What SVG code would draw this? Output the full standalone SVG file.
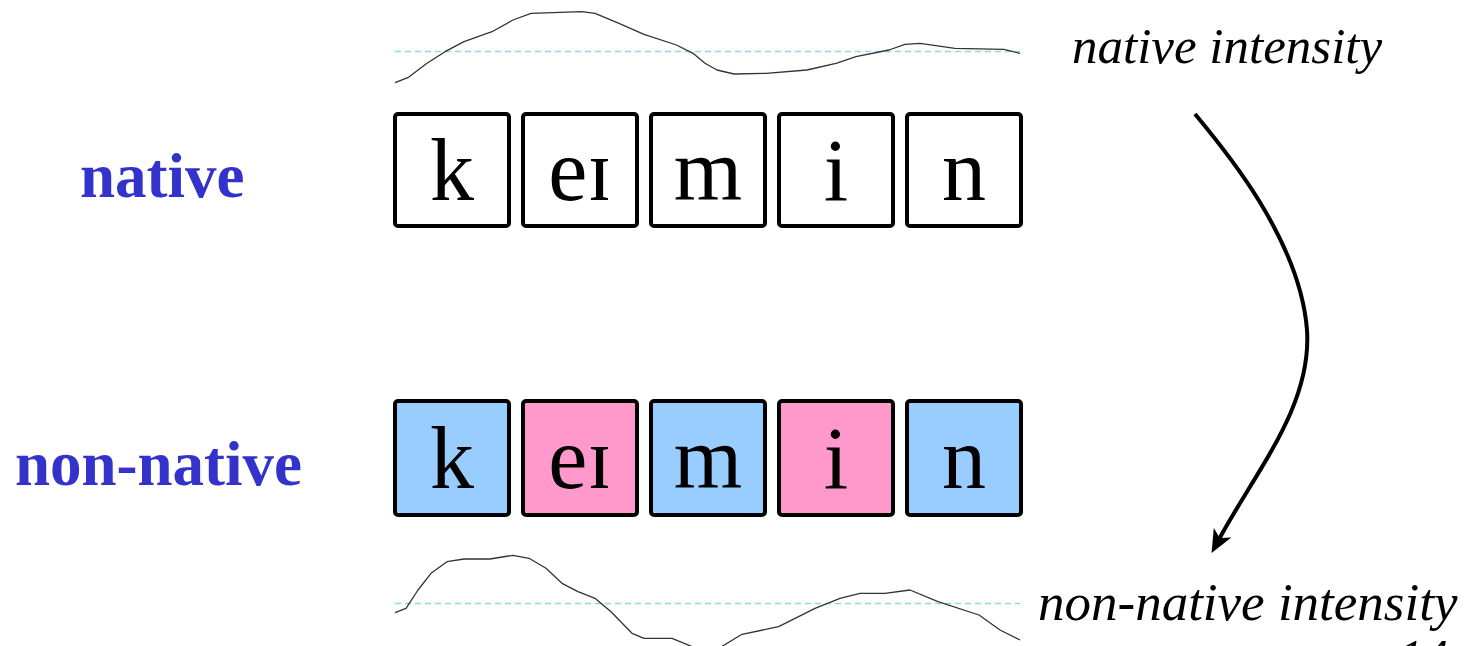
<svg xmlns="http://www.w3.org/2000/svg" width="1480" height="646" viewBox="0 0 1480 646">
<style>
.box{stroke:#000;stroke-width:4;rx:3;}
.w{fill:#fff;}
.b{fill:#99ccff;}
.p{fill:#ff99cc;}
.ph{font-family:"Liberation Serif","DejaVu Serif",serif;font-size:88px;fill:#000;text-anchor:middle;}
.lab{font-family:"Liberation Serif",serif;font-weight:bold;font-size:63px;fill:#3333cc;}
.it{font-family:"Liberation Serif",serif;font-style:italic;fill:#000;}
.dash{stroke:#88dddd;stroke-width:1.3;stroke-dasharray:6 4;fill:none;}
.wave{stroke:#333;stroke-width:1.3;fill:none;stroke-linejoin:round;}
</style>
<defs>
<marker id="ah" markerUnits="userSpaceOnUse" markerWidth="30" markerHeight="24" viewBox="0 0 30 24" refX="6" refY="12" orient="auto">
<path d="M0,2 L23,12 L0,22 L6,12 Z" fill="#000"/>
</marker>
</defs>
<g id="waves">
<line class="dash" x1="395" y1="51.5" x2="1020" y2="51.5"/>
<path class="wave" d="M395,82.7 L408.5,77.3 L427,63.3 L445,51.7 L464,41.7 L492,31.7 L513,20 L531,13.3 L582,11.7 L595,13.3 L619,23.3 L644,34.3 L676.5,45 L693,53.3 L705,63.3 L717,70 L734,74 L766,73.3 L807,70 L836,63.3 L856,56.7 L889,50 L905,44.3 L920,43.3 L955,48.3 L1004,49.3 L1020,53.3"/>
<line class="dash" x1="395" y1="603.5" x2="1020" y2="603.5"/>
<path class="wave" d="M395,612.7 L406,608.3 L418,590 L431,573.3 L447,561.7 L464,559 L490,559 L513,555.3 L529,558.3 L546,568.3 L562,583.3 L578,591.7 L595,598.3 L611,611.7 L632,633.3 L644,638.3 L672,638.3 L693,647 L721,647 L742,634.3 L778.6,626.7 L815,608.3 L840,598.3 L860,593.3 L885,593.3 L910,590 L938,601.7 L979,615 L1000,630 L1020,640"/>
</g>
<g id="label-native"><text class="lab" x="80" y="197">native</text></g>
<g id="label-nonnative"><text class="lab" x="15" y="485">non-native</text></g>
<g id="native-k"><rect class="box w" x="395" y="114" width="114" height="112"/><text class="ph" x="452" y="200">k</text></g>
<g id="native-ei"><rect class="box w" x="523" y="114" width="114" height="112"/><text class="ph" x="580" y="200">eɪ</text></g>
<g id="native-m"><rect class="box w" x="651" y="114" width="114" height="112"/><text class="ph" x="708" y="200">m</text></g>
<g id="native-i"><rect class="box w" x="779" y="114" width="114" height="112"/><text class="ph" x="836" y="200">i</text></g>
<g id="native-n"><rect class="box w" x="907" y="114" width="114" height="112"/><text class="ph" x="964" y="200">n</text></g>
<g id="nn-k"><rect class="box b" x="395" y="401" width="114" height="114"/><text class="ph" x="452" y="488">k</text></g>
<g id="nn-ei"><rect class="box p" x="523" y="401" width="114" height="114"/><text class="ph" x="580" y="488">eɪ</text></g>
<g id="nn-m"><rect class="box b" x="651" y="401" width="114" height="114"/><text class="ph" x="708" y="488">m</text></g>
<g id="nn-i"><rect class="box p" x="779" y="401" width="114" height="114"/><text class="ph" x="836" y="488">i</text></g>
<g id="nn-n"><rect class="box b" x="907" y="401" width="114" height="114"/><text class="ph" x="964" y="488">n</text></g>
<g id="native-intensity"><text class="it" x="1072" y="63" font-size="51">native intensity</text></g>
<g id="nonnative-intensity"><text class="it" x="1038" y="620" font-size="53">non-native intensity</text></g>
<g id="page-number"><text class="it" x="1398" y="674" font-size="50">14</text></g>
<g id="connectors">
<path d="M1195,114 C1225,150 1300,240 1307,330 C1312,405 1258,468 1219.7,538" fill="none" stroke="#000" stroke-width="4" marker-end="url(#ah)"/>
</g>
</svg>
